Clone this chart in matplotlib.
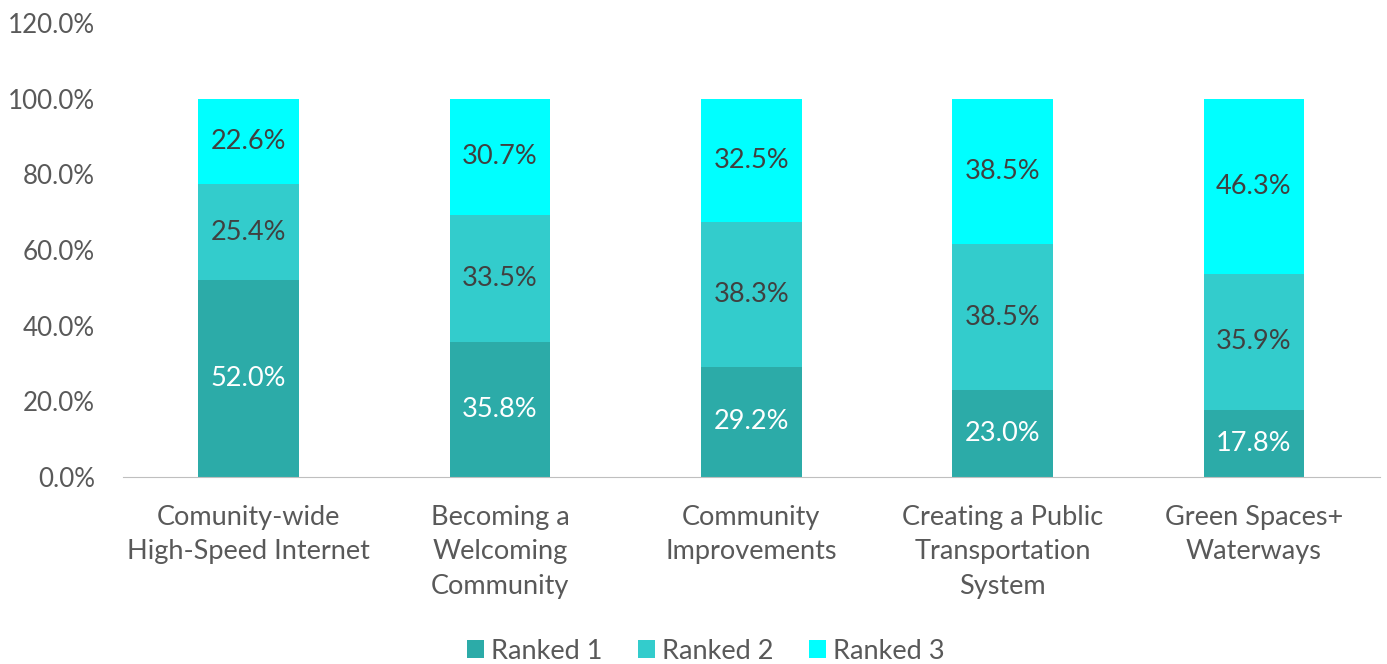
import matplotlib.pyplot as plt
import numpy as np

categories = ["Comunity-wide\nHigh-Speed Internet", "Becoming a\nWelcoming\nCommunity",
              "Community\nImprovements", "Creating a Public\nTransportation\nSystem",
              "Green Spaces+\nWaterways"]
ranked1 = [52.0, 35.8, 29.2, 23.0, 17.8]
ranked2 = [25.4, 33.5, 38.3, 38.5, 35.9]
ranked3 = [22.6, 30.7, 32.5, 38.5, 46.3]
series_names = ["Ranked 1", "Ranked 2", "Ranked 3"]
colors = ["#2CABA8", "#33CCCC", "#00FFFF"]
label_colors = ["white", "#404040", "#404040"]

plt.rcParams["font.family"] = ["Lato", "DejaVu Sans"]

fig = plt.figure(figsize=(13.87, 6.64), dpi=100)
ax = fig.add_axes([0.0887, 0.2816, 0.906, 0.6838])

x = np.arange(len(categories))
bottom = np.zeros(len(categories))
for vals, name, col, lc in zip([ranked1, ranked2, ranked3], series_names, colors, label_colors):
    vals = np.array(vals)
    ax.bar(x, vals, 0.4, bottom=bottom, color=col, label=name, edgecolor="none")
    for xi, b, v in zip(x, bottom, vals):
        ax.text(xi, b + v / 2, f"{v:.1f}%", ha="center", va="center", fontsize=19.5, color=lc)
    bottom += vals

ax.set_xlim(-0.5, len(categories) - 0.5)
ax.set_ylim(0, 120)
ax.set_yticks(np.arange(0, 121, 20))
ax.set_yticklabels([f"{v:.1f}%" for v in np.arange(0, 121, 20)], fontsize=18.7)
ax.set_xticks(x)
ax.set_xticklabels(categories, linespacing=1.48, fontsize=19.5)
ax.tick_params(axis="both", length=0, labelcolor="#595959")
ax.tick_params(axis="x", pad=20)
ax.tick_params(axis="y", pad=20)
for s in ["top", "right", "left"]:
    ax.spines[s].set_visible(False)
ax.spines["bottom"].set_color("#BFBFBF")

fig.legend(loc="lower center", ncol=3, frameon=False, fontsize=19.5, labelcolor="#595959",
           bbox_to_anchor=(0.509, -0.036), handlelength=0.63, handleheight=0.63,
           handletextpad=0.26, columnspacing=1.3)

fig.savefig("out.png", dpi=100)
